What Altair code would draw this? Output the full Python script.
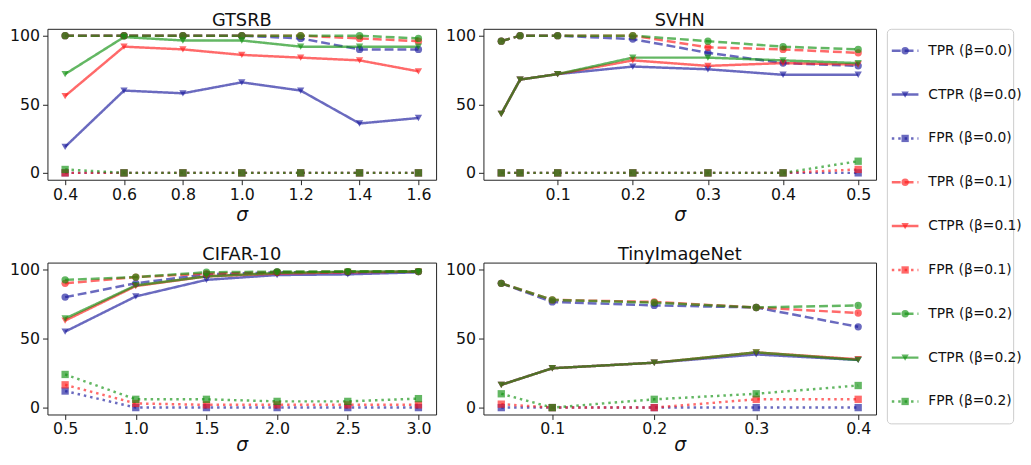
import altair as alt
import pandas as pd

BETAS = ["0.0", "0.1", "0.2"]
METRICS = ["TPR", "CTPR", "FPR"]
COLORS = ["#1a1a9c", "#ff1a1a", "#109010"]
DASHES = [[9, 4], [1, 0], [2.5, 4]]
SHAPES = ["circle", "triangle-down", "square"]

# ---- GTSRB ----
gtsrb_sigma = [0.4, 0.6, 0.8, 1.0, 1.2, 1.4, 1.6]
gtsrb_tpr_b0 = [100, 100, 100, 100, 98, 90, 90]
gtsrb_ctpr_b0 = [19, 60, 58, 66, 60, 36, 40]
gtsrb_fpr_b0 = [0, 0, 0, 0, 0, 0, 0]
gtsrb_tpr_b1 = [100, 100, 100, 100, 100, 98, 96]
gtsrb_ctpr_b1 = [56, 92, 90, 86, 84, 82, 74]
gtsrb_fpr_b1 = [0, 0, 0, 0, 0, 0, 0]
gtsrb_tpr_b2 = [100, 100, 100, 100, 100, 100, 98]
gtsrb_ctpr_b2 = [72, 99, 96.5, 96.5, 92, 92, 92]
gtsrb_fpr_b2 = [2.5, 0, 0, 0, 0, 0, 0]

# ---- SVHN ----
svhn_sigma = [0.025, 0.05, 0.1, 0.2, 0.3, 0.4, 0.5]
svhn_tpr_b0 = [96, 100, 100, 97.5, 87.5, 80, 78]
svhn_ctpr_b0 = [43, 68, 72, 77.5, 75.5, 71.5, 71.5]
svhn_fpr_b0 = [0, 0, 0, 0, 0, 0, 0]
svhn_tpr_b1 = [96, 100, 100, 100, 91.5, 90, 87.5]
svhn_ctpr_b1 = [43, 68, 72, 82, 78, 80, 79]
svhn_fpr_b1 = [0, 0, 0, 0, 0, 0, 2.5]
svhn_tpr_b2 = [96, 100, 100, 100, 96, 92, 90]
svhn_ctpr_b2 = [43, 68, 72, 84, 84, 82, 80]
svhn_fpr_b2 = [0, 0, 0, 0, 0, 0, 8.5]

# ---- CIFAR-10 ----
cifar_sigma = [0.5, 1.0, 1.5, 2.0, 2.5, 3.0]
cifar_tpr_b0 = [80, 90, 96.5, 98, 98, 98.5]
cifar_ctpr_b0 = [55, 80.5, 92.5, 96, 96.5, 98]
cifar_fpr_b0 = [12, 0, 0, 0, 0, 0]
cifar_tpr_b1 = [90, 94.5, 97, 98, 98.5, 98.5]
cifar_ctpr_b1 = [63, 88, 95, 97, 98, 98.5]
cifar_fpr_b1 = [16.5, 3, 2, 2, 2, 2]
cifar_tpr_b2 = [92.5, 94.5, 98, 98.5, 98.5, 98.5]
cifar_ctpr_b2 = [64.5, 88.5, 95, 97.5, 98.5, 98.5]
cifar_fpr_b2 = [24, 6, 6, 4.5, 4.5, 6.5]

# ---- TinyImageNet ----
tiny_sigma = [0.05, 0.1, 0.2, 0.3, 0.4]
tiny_tpr_b0 = [90, 76.5, 74, 72.5, 58.5]
tiny_ctpr_b0 = [16.5, 28.5, 32.5, 38.5, 34.5]
tiny_fpr_b0 = [0, 0, 0, 0, 0]
tiny_tpr_b1 = [90, 78, 76.5, 72.5, 68.5]
tiny_ctpr_b1 = [16.5, 28.5, 32.5, 40, 35]
tiny_fpr_b1 = [2.5, 0, 0, 6, 6]
tiny_tpr_b2 = [90, 78, 76, 72.5, 74]
tiny_ctpr_b2 = [16.5, 28.5, 32.5, 40, 34.5]
tiny_fpr_b2 = [10, 0, 6, 10, 16]


def make_df(sigma, series):
    rows = []
    for beta, metric, vals in series:
        for s, v in zip(sigma, vals):
            rows.append({"sigma": s, "value": v, "beta": beta, "metric": metric,
                         "series": f"{metric} {beta}"})
    return pd.DataFrame(rows)


gtsrb_df = make_df(gtsrb_sigma, [
    ("0.0", "TPR", gtsrb_tpr_b0), ("0.0", "CTPR", gtsrb_ctpr_b0), ("0.0", "FPR", gtsrb_fpr_b0),
    ("0.1", "TPR", gtsrb_tpr_b1), ("0.1", "CTPR", gtsrb_ctpr_b1), ("0.1", "FPR", gtsrb_fpr_b1),
    ("0.2", "TPR", gtsrb_tpr_b2), ("0.2", "CTPR", gtsrb_ctpr_b2), ("0.2", "FPR", gtsrb_fpr_b2)])
svhn_df = make_df(svhn_sigma, [
    ("0.0", "TPR", svhn_tpr_b0), ("0.0", "CTPR", svhn_ctpr_b0), ("0.0", "FPR", svhn_fpr_b0),
    ("0.1", "TPR", svhn_tpr_b1), ("0.1", "CTPR", svhn_ctpr_b1), ("0.1", "FPR", svhn_fpr_b1),
    ("0.2", "TPR", svhn_tpr_b2), ("0.2", "CTPR", svhn_ctpr_b2), ("0.2", "FPR", svhn_fpr_b2)])
cifar_df = make_df(cifar_sigma, [
    ("0.0", "TPR", cifar_tpr_b0), ("0.0", "CTPR", cifar_ctpr_b0), ("0.0", "FPR", cifar_fpr_b0),
    ("0.1", "TPR", cifar_tpr_b1), ("0.1", "CTPR", cifar_ctpr_b1), ("0.1", "FPR", cifar_fpr_b1),
    ("0.2", "TPR", cifar_tpr_b2), ("0.2", "CTPR", cifar_ctpr_b2), ("0.2", "FPR", cifar_fpr_b2)])
tiny_df = make_df(tiny_sigma, [
    ("0.0", "TPR", tiny_tpr_b0), ("0.0", "CTPR", tiny_ctpr_b0), ("0.0", "FPR", tiny_fpr_b0),
    ("0.1", "TPR", tiny_tpr_b1), ("0.1", "CTPR", tiny_ctpr_b1), ("0.1", "FPR", tiny_fpr_b1),
    ("0.2", "TPR", tiny_tpr_b2), ("0.2", "CTPR", tiny_ctpr_b2), ("0.2", "FPR", tiny_fpr_b2)])

color_enc = alt.Color("beta:N", scale=alt.Scale(domain=BETAS, range=COLORS), legend=None)
dash_enc = alt.StrokeDash("metric:N", scale=alt.Scale(domain=METRICS, range=DASHES), legend=None)
shape_enc = alt.Shape("metric:N", scale=alt.Scale(domain=METRICS, range=SHAPES), legend=None)


def panel(df, title, domain, ticks, width, height, lpad, tpad):
    base = alt.Chart(df).encode(
        x=alt.X("sigma:Q", scale=alt.Scale(domain=domain, nice=False, zero=False),
                axis=alt.Axis(values=ticks, format=".1f", title="σ",
                              labelPadding=lpad, titlePadding=tpad)),
        y=alt.Y("value:Q", scale=alt.Scale(domain=[-5, 105], nice=False, zero=False),
                axis=alt.Axis(values=[0, 50, 100], title=None)),
        color=color_enc,
        detail="series:N",
    )
    lines = base.mark_line(strokeWidth=2.5, opacity=0.65, strokeCap="butt").encode(strokeDash=dash_enc)
    pts = base.mark_point(filled=True, size=55, opacity=0.65).encode(shape=shape_enc)
    return alt.layer(lines, pts).properties(
        width=width, height=height,
        title=alt.TitleParams(title, fontSize=18, offset=-2, fontWeight="normal"))


p1 = panel(gtsrb_df, "GTSRB", [0.34, 1.66], [0.4, 0.6, 0.8, 1.0, 1.2, 1.4, 1.6], 394, 153, 2, 3)
p2 = panel(svhn_df, "SVHN", [0.00125, 0.52375], [0.1, 0.2, 0.3, 0.4, 0.5], 398, 153, 2, 3)
p3 = panel(cifar_df, "CIFAR-10", [0.375, 3.125], [0.5, 1.0, 1.5, 2.0, 2.5, 3.0], 394, 154, 1, 0)
p4 = panel(tiny_df, "TinyImageNet", [0.0325, 0.4175], [0.1, 0.2, 0.3, 0.4], 398, 154, 1, 0)

# ---- legend ----
leg_rows = []
i = 0
for b in BETAS:
    for m in METRICS:
        leg_rows.append({"idx": i, "beta": b, "metric": m, "label": f"{m} (β={b})"})
        i += 1
leg_df = pd.DataFrame(leg_rows)

lbase = alt.Chart(leg_df).encode(
    y=alt.Y("idx:Q", scale=alt.Scale(domain=[-0.5, 8.5], nice=False, zero=False, reverse=True),
            axis=None),
    color=color_enc,
)
lrule = lbase.mark_rule(strokeWidth=2.5, opacity=0.65, strokeCap="butt").encode(
    x=alt.value(5), x2=alt.value(32), strokeDash=dash_enc)
lpts = lbase.mark_point(filled=True, size=55, opacity=0.65).encode(x=alt.value(18.5), shape=shape_enc)
ltext = lbase.mark_text(align="left", baseline="middle", fontSize=14).encode(
    x=alt.value(42), text="label:N", color=alt.value("#111111"))
legend = alt.layer(lrule, lpts, ltext).properties(
    width=128, height=400,
    view=alt.ViewConfig(stroke="#cccccc", strokeWidth=1, cornerRadius=4),
    title=alt.TitleParams(" ", fontSize=1, offset=2),
)

grid = alt.vconcat(
    alt.hconcat(p1, p2, spacing=7),
    alt.hconcat(p3, p4, spacing=7),
    spacing=20,
)

chart = alt.hconcat(grid, legend, spacing=9).properties(padding=0).configure(
    font="DejaVu Sans", background="white"
).configure_view(
    stroke="#222222", strokeWidth=1
).configure_axis(
    grid=False, domain=False, labelFontSize=16, labelColor="#111111",
    tickSize=5, tickColor="#222222", tickWidth=1, labelPadding=3,
    titleFontSize=19, titleFontStyle="italic", titleFontWeight="normal",
    titleColor="#111111", titlePadding=1,
).configure_title(
    font="DejaVu Sans", color="#111111", anchor="middle"
)

chart.save("out.html", embed_options={"renderer": "svg", "actions": False})
